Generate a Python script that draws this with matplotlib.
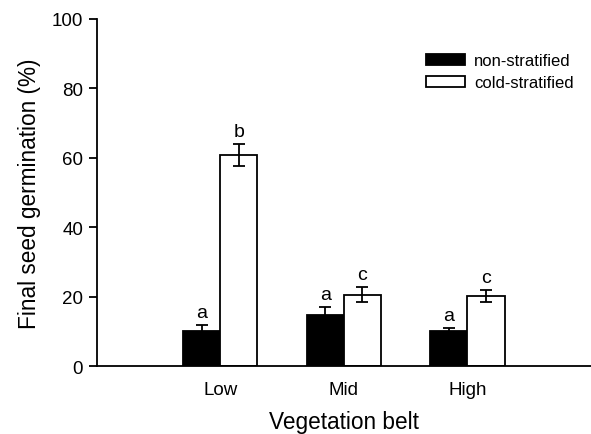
import numpy as np
import matplotlib
matplotlib.use("Agg")
import matplotlib.pyplot as plt

plt.rcParams['font.family'] = ['Liberation Sans', 'DejaVu Sans']

belts = ["Low", "Mid", "High"]
non_strat = [10.1, 14.8, 10.1]
non_strat_err = [1.6, 2.2, 0.9]
cold_strat = [60.7, 20.6, 20.1]
cold_strat_err = [3.1, 2.1, 1.7]
non_letters = ["a", "a", "a"]
cold_letters = ["b", "c", "c"]

x = np.arange(1, len(belts) + 1)
w = 0.3

fig = plt.figure(figsize=(5.91, 4.35), dpi=100)
ax = fig.add_axes([0.164, 0.156, 0.836, 0.799])

ekw = dict(ecolor="black", elinewidth=1.3, capsize=4.5, capthick=1.3)
ax.bar(x - w / 2, non_strat, w, color="black", edgecolor="black", linewidth=1.3,
       yerr=non_strat_err, error_kw=ekw, label="non-stratified", zorder=2)
ax.bar(x + w / 2, cold_strat, w, color="white", edgecolor="black", linewidth=1.3,
       yerr=cold_strat_err, error_kw=ekw, label="cold-stratified", zorder=2)

for xi, v, e, t in zip(x - w / 2, non_strat, non_strat_err, non_letters):
    ax.annotate(t, (xi, v + e), xytext=(0, 3), textcoords="offset points",
                ha="center", va="bottom", fontsize=14)
for xi, v, e, t in zip(x + w / 2, cold_strat, cold_strat_err, cold_letters):
    ax.annotate(t, (xi, v + e), xytext=(0, 3), textcoords="offset points",
                ha="center", va="bottom", fontsize=14)

ax.set_xlim(0, 4)
ax.set_ylim(0, 100)
ax.set_yticks(np.arange(0, 101, 20))
ax.set_xticks(x)
ax.set_xticklabels(belts)
ax.tick_params(axis="x", length=0, labelsize=13.5, pad=11)
ax.tick_params(axis="y", length=6, width=1.3, labelsize=13.5, direction="out", pad=4)
for s in ["top", "right"]:
    ax.spines[s].set_visible(False)
for s in ["left", "bottom"]:
    ax.spines[s].set_linewidth(1.3)

ax.set_xlabel("Vegetation belt", fontsize=16.3, labelpad=8)
ax.set_ylabel("Final seed germination (%)", fontsize=16.3, labelpad=8)

ax.legend(loc="upper left", bbox_to_anchor=(0.635, 0.943), frameon=False, fontsize=12,
          handlelength=2.35, handleheight=0.65, handletextpad=0.55, labelspacing=0.4)

fig.savefig("out.png", dpi=100)
